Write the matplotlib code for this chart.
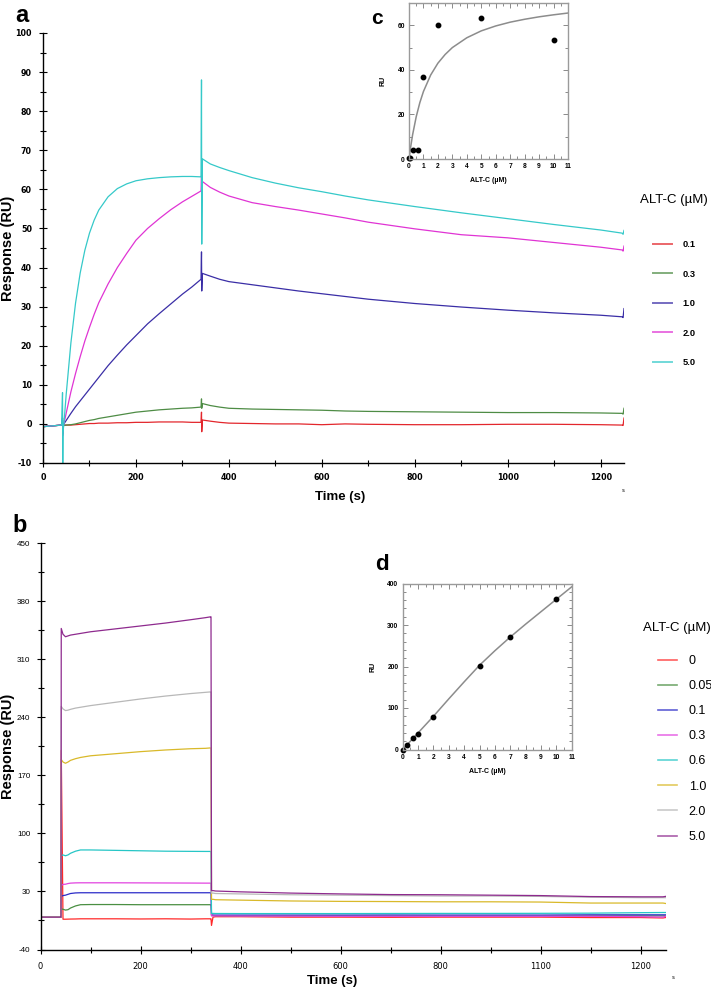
import matplotlib
matplotlib.use('Agg')
import matplotlib.pyplot as plt
from matplotlib.ticker import MultipleLocator, FixedLocator

plt.rcParams['axes.unicode_minus'] = False

# ---------- panel a: sensorgrams (ALT-C 0.1 - 5.0 uM)
t_a = [0, 20, 40, 42, 42.5, 43, 45, 50, 60, 70, 80, 90, 100, 110, 120, 140, 160, 180, 200,
       225, 250, 275, 300, 320, 340, 341, 341.5, 343, 360, 380, 400, 450, 500, 550, 600,
       650, 700, 800, 900, 1000, 1100, 1200, 1246, 1248, 1250]
ru_a_01 = [-0.7, -0.5, -0.3, 1.5, -2.5, -0.5, -0.3, -0.3, -0.3, -0.2,
           -0.1, 0.0, 0.1, 0.1, 0.2, 0.2, 0.3, 0.3, 0.4, 0.4,
           0.5, 0.5, 0.5, 0.4, 0.4, 3.0, -2.0, 1.0, 0.7, 0.4,
           0.2, 0.1, 0.0, 0.0, -0.2, 0.0, -0.1, -0.2, -0.2, -0.1,
           -0.1, -0.2, -0.3, -0.4, 1.5]
ru_a_03 = [-0.7, -0.5, -0.3, 0.5, -1.5, -0.5, -0.4, -0.3, -0.2, 0.0,
           0.3, 0.6, 0.9, 1.1, 1.4, 1.8, 2.2, 2.6, 3.0, 3.3,
           3.6, 3.8, 4.0, 4.1, 4.3, 6.4, 4.0, 5.2, 4.7, 4.3,
           4.0, 3.8, 3.7, 3.6, 3.5, 3.3, 3.2, 3.1, 3.0, 2.9,
           2.9, 2.8, 2.7, 2.5, 4.0]
ru_a_10 = [-0.7, -0.5, -0.3, 1.0, -2.5, -1.0, 0.0, 0.9, 2.7, 4.4,
           5.9, 7.4, 8.9, 10.4, 11.9, 14.9, 17.6, 20.2, 22.6, 25.6,
           28.2, 30.7, 33.2, 35.0, 37.0, 44.0, 34.0, 38.5, 37.8, 37.0,
           36.4, 35.6, 34.8, 34.0, 33.3, 32.6, 31.9, 30.8, 29.9, 29.1,
           28.4, 27.8, 27.4, 27.2, 29.5]
ru_a_20 = [-0.7, -0.5, -0.3, 1.5, -3.0, -1.0, 0.0, 2.8, 8.2, 12.9,
           17.2, 21.2, 24.7, 28.0, 31.0, 35.8, 40.0, 43.6, 47.0, 50.0,
           52.5, 54.8, 56.8, 58.2, 59.6, 63.5, 58.0, 62.0, 60.5, 59.3,
           58.3, 56.6, 55.6, 54.7, 53.7, 52.7, 51.6, 49.9, 48.4, 47.6,
           46.4, 45.2, 44.5, 44.2, 45.5]
ru_a_50 = [-0.7, -0.5, -0.3, 8.0, -10.0, -2.0, 0.0, 7.7, 20.7, 30.9,
           38.6, 44.4, 48.8, 52.1, 54.7, 58.1, 60.2, 61.4, 62.2, 62.7,
           63.0, 63.2, 63.3, 63.3, 63.2, 88.0, 46.0, 67.8, 66.5, 65.6,
           64.8, 63.0, 61.6, 60.4, 59.4, 58.3, 57.3, 55.6, 54.0, 52.5,
           51.0, 49.6, 48.8, 48.5, 49.5]
labels_a = ['0.1', '0.3', '1.0', '2.0', '5.0']
colors_a = ['#e3262c', '#4e8c45', '#3a2ea6', '#e034d4', '#35c9c9']

# ---------- panel b: sensorgrams (ALT-C 0 - 5.0 uM)
t_b = [0, 20, 40, 41, 41.5, 45, 50, 55, 60, 70, 80, 100, 150, 200, 250, 300, 330, 340,
       341, 342, 345, 350, 400, 500, 600, 700, 800, 900, 1000, 1100, 1200, 1245, 1250]
ru_b_0 = [-1, -1, -1, -1, 200, -3.5, -3.5, -3.4, -3.3, -3.2,
          -3, -3, -3, -3.2, -3, -3.3, -3, -3, -3, -11,
          -1, -0.5, -0.5, -1, -1, -1.2, -1, -1, -1, -1.5,
          -1.5, -2, -1.5]
ru_b_005 = [-1, -1, -1, -1, 9, 8.5, 7.5, 8, 10, 12.5,
            14, 14.2, 14.2, 14, 14, 14, 14, 14, 14, 1,
            1, 0.8, 0.5, 0.5, 0.5, 0.3, 0.3, 0.3, 0.3, 0.5,
            0.5, 0.5, 0.5]
ru_b_01 = [-1, -1, -1, -1, 24, 25, 25.5, 26.5, 27.5, 28.2,
           28.4, 28.4, 28.4, 28.4, 28.4, 28.4, 28.4, 28.4, 28.4, 1.5,
           1.5, 1.5, 1.5, 1.5, 1.5, 1.6, 1.5, 1.5, 1.5, 1.8,
           1.8, 1.8, 1.8]
ru_b_03 = [-1, -1, -1, -1, 37, 38.5, 38.7, 39.5, 40, 40.3,
           40.4, 40.4, 40.4, 40.3, 40.2, 40.1, 40, 40, 40, 0.5,
           0.5, 0.5, 0.3, 0.2, 0, 0, 0, 0, 0, 0,
           -0.5, -1, 0]
ru_b_06 = [-1, -1, -1, -1, 73, 74, 73, 74, 76, 78.5,
           80, 80, 79.5, 79, 78.5, 78.3, 78.2, 78.2, 78, 3.5,
           3.5, 3.4, 3.3, 3.3, 3.3, 3.4, 3.5, 3.5, 3.6, 3.8,
           4.4, 4.6, 4.6]
ru_b_10 = [-1, -1, -1, -1, 189, 186, 184.5, 186, 188, 190,
           191.5, 193.5, 196, 198.5, 200.5, 202, 202.5, 203, 203, 20.5,
           20.5, 20, 19.5, 18.5, 18, 17.8, 17.5, 17.5, 17.2, 16,
           16, 16, 15.5]
ru_b_20 = [-1, -1, -1, -1, 253, 250, 248, 248.5, 249.5, 251,
           252, 254, 258, 262, 265.5, 268.5, 270, 270.5, 270.5, 28,
           28, 27.5, 27, 26, 25.5, 25, 24.5, 24.5, 24, 23,
           22.5, 22.5, 22.5]
ru_b_50 = [-1, -1, -1, -1, 347, 340, 337, 338, 339, 340,
           341, 343, 346.5, 350, 353.5, 357.5, 360, 361, 361, 31,
           31, 30.5, 29.5, 28, 27, 26.2, 26, 25.5, 25, 23.8,
           23.5, 23.5, 24]
labels_b = ['0', '0.05', '0.1', '0.3', '0.6', '1.0', '2.0', '5.0']
colors_b = ['#ff2a2a', '#4a8f42', '#2c2cc8', '#e244e0', '#26c6c6', '#d9b92a', '#b8b8b8', '#8e2a8e']
xtick_b = [0, 200, 400, 600, 800, 1000, 1200]
xticklab_b = ['0', '200', '400', '600', '800', '1100', '1200']

# ---------- inset c: steady state fit
conc_c = [0, 0.1, 0.3, 0.6, 1, 2, 5, 10]
ru_c = [0.3, 0.4, 4, 4, 37, 60, 63.3, 53.5]
fit_c_x = [0, 0.1, 0.25, 0.5, 0.75, 1, 1.5, 2, 2.5, 3, 4, 5, 6, 7, 8, 9, 10, 11]
fit_c_y = [0, 4.8, 10.9, 19.0, 25.3, 30.3, 37.7, 43.0, 46.9, 50.0, 54.4, 57.5, 59.7,
           61.4, 62.7, 63.8, 64.7, 65.5]

# ---------- inset d
conc_d = [0, 0.3, 0.7, 1.0, 2.0, 5.0, 7.0, 10.0]
ru_d = [0, 12, 27, 38, 79, 202, 270, 362]
fit_d_x = [0, 1, 2, 3, 4, 5, 6, 7, 8, 9, 10, 11]
fit_d_y = [0, 40, 80, 122, 163, 203, 238, 271, 302, 332, 362, 392]

W, H = 711, 992
fig = plt.figure(figsize=(W / 100, H / 100), dpi=100)


def px(x0, y0, x1, y1):
    return [x0 / W, 1 - y1 / H, (x1 - x0) / W, (y1 - y0) / H]


def sensor_axes(ax):
    for s in ['top', 'right']:
        ax.spines[s].set_visible(False)
    for s in ['left', 'bottom']:
        ax.spines[s].set_linewidth(1.0)
    ax.tick_params(which='major', direction='inout', length=6, width=0.8)
    ax.tick_params(which='minor', direction='inout', length=4, width=0.8)


# ---- a
ax = fig.add_axes(px(43, 33, 624, 463))
for ys, c, l in zip([ru_a_01, ru_a_03, ru_a_10, ru_a_20, ru_a_50], colors_a, labels_a):
    ax.plot(t_a, ys, color=c, lw=0.9, label=l)
ax.set_xlim(0, 1250)
ax.set_ylim(-10, 100)
sensor_axes(ax)
ax.xaxis.set_major_locator(FixedLocator([0, 200, 400, 600, 800, 1000, 1200]))
ax.xaxis.set_minor_locator(MultipleLocator(100))
ax.yaxis.set_major_locator(MultipleLocator(10))
ax.yaxis.set_minor_locator(MultipleLocator(5))
for lab in ax.get_xticklabels() + ax.get_yticklabels():
    lab.set_fontfamily('DejaVu Sans')
    lab.set_fontweight('bold')
    lab.set_fontsize(5.8)
ax.tick_params(axis='y', pad=5)
ax.tick_params(axis='x', pad=4)
ax.set_ylabel('Response (RU)', fontsize=10.5, fontweight='bold', family='Liberation Sans')
ax.yaxis.set_label_coords(-0.048, 0.5)
ax.set_xlabel('Time (s)', fontsize=9.5, fontweight='bold', family='Liberation Sans')
ax.xaxis.set_label_coords(0.511, -0.064)
ax.text(0.998, -0.063, 's', transform=ax.transAxes, fontsize=4, ha='center', va='center')
leg = ax.legend(loc='upper left', bbox_to_anchor=(653 / W, 1 - 240 / H),
                bbox_transform=fig.transFigure, frameon=False, borderpad=0,
                borderaxespad=0, handlelength=2.0, handletextpad=1.2, labelspacing=2.21,
                prop={'family': 'Liberation Sans', 'weight': 'bold', 'size': 6.7})
for h in leg.get_lines():
    h.set_linewidth(1.4)
    h.set_alpha(0.7)
fig.text(640 / W, 1 - 200 / H, 'ALT-C (µM)', fontsize=9.5, family='Liberation Sans',
         ha='left', va='center')
fig.text(15 / W, 1 - 15 / H, 'a', fontsize=17, fontweight='bold', family='Liberation Sans',
         ha='left', va='center')

# ---- b
bx = fig.add_axes(px(40.5, 543, 665.5, 949.5))
for ys, c, l in zip([ru_b_0, ru_b_005, ru_b_01, ru_b_03, ru_b_06, ru_b_10, ru_b_20, ru_b_50],
                    colors_b, labels_b):
    bx.plot(t_b, ys, color=c, lw=0.9, label=l)
bx.set_xlim(0, 1250)
bx.set_ylim(-40, 450)
sensor_axes(bx)
bx.set_xticks(xtick_b)
bx.set_xticklabels(xticklab_b)
bx.xaxis.set_minor_locator(MultipleLocator(100))
bx.set_yticks([-40, 30, 100, 170, 240, 310, 380, 450])
bx.yaxis.set_minor_locator(FixedLocator([-5, 65, 135, 205, 275, 345, 415]))
for lab in bx.get_xticklabels():
    lab.set_fontfamily('DejaVu Sans')
    lab.set_fontsize(6)
for lab in bx.get_yticklabels():
    lab.set_fontfamily('Liberation Sans')
    lab.set_fontsize(5.8)
bx.tick_params(axis='y', pad=4.4)
bx.tick_params(axis='x', pad=6)
bx.set_ylabel('Response (RU)', fontsize=10.5, fontweight='bold', family='Liberation Sans')
bx.yaxis.set_label_coords(-0.041, 0.5)
bx.set_xlabel('Time (s)', fontsize=9.5, fontweight='bold', family='Liberation Sans')
bx.xaxis.set_label_coords(0.466, -0.062)
bx.text(1.012, -0.068, 's', transform=bx.transAxes, fontsize=4, ha='center', va='center')
leg = bx.legend(loc='upper left', bbox_to_anchor=(658 / W, 1 - 655 / H),
                bbox_transform=fig.transFigure, frameon=False, borderpad=0,
                borderaxespad=0, handlelength=1.5, handletextpad=0.95, labelspacing=1.05,
                prop={'family': 'Liberation Sans', 'size': 9})
for h in leg.get_lines():
    h.set_linewidth(1.2)
    h.set_alpha(0.75)
fig.text(643 / W, 1 - 628 / H, 'ALT-C (µM)', fontsize=9.5, family='Liberation Sans',
         ha='left', va='center')
fig.text(12 / W, 1 - 525 / H, 'b', fontsize=17, fontweight='bold', family='Liberation Sans',
         ha='left', va='center')


def inset(ax, xmaj, ymaj, ymin):
    ax.set_facecolor('white')
    for s in ax.spines.values():
        s.set_color('#9a9a9a')
        s.set_linewidth(1.0)
    ax.xaxis.set_major_locator(MultipleLocator(xmaj))
    ax.xaxis.set_minor_locator(MultipleLocator(0.5))
    ax.yaxis.set_major_locator(MultipleLocator(ymaj))
    ax.yaxis.set_minor_locator(MultipleLocator(ymin))
    ax.tick_params(which='both', direction='in', top=True, right=True, color='#8a8a8a',
                   width=0.7, labelsize=4.8, pad=3)
    ax.tick_params(which='major', length=3.5)
    ax.tick_params(which='minor', length=2.2)
    for lab in ax.get_xticklabels() + ax.get_yticklabels():
        lab.set_fontweight('bold')
        lab.set_fontfamily('Liberation Sans')


# ---- c
cx = fig.add_axes(px(409, 3, 568, 159))
cx.plot(fit_c_x, fit_c_y, color='#8c8c8c', lw=1.1)
cx.plot(conc_c, ru_c, 'o', color='black', ms=3.2, clip_on=False)
cx.set_xlim(0, 11)
cx.set_ylim(0, 70)
inset(cx, 1, 20, 10)
cx.set_xlabel('ALT-C (µM)', fontsize=5, fontweight='bold', family='Liberation Sans', labelpad=5)
cx.set_ylabel('RU', fontsize=5, fontweight='bold', family='Liberation Sans', labelpad=8)
fig.text(371 / W, 1 - 18 / H, 'c', fontsize=15, fontweight='bold', family='Liberation Sans',
         ha='left', va='center')

# ---- d
dx = fig.add_axes(px(402.7, 583.5, 571.7, 749.5))
dx.plot(fit_d_x, fit_d_y, color='#8c8c8c', lw=1.1)
dx.plot(conc_d, ru_d, 'o', color='black', ms=3.2, clip_on=False)
dx.set_xlim(0, 11)
dx.set_ylim(0, 400)
inset(dx, 1, 100, 20)
dx.set_xlabel('ALT-C (µM)', fontsize=5, fontweight='bold', family='Liberation Sans', labelpad=5)
dx.set_ylabel('RU', fontsize=5, fontweight='bold', family='Liberation Sans', labelpad=8)
fig.text(375 / W, 1 - 565 / H, 'd', fontsize=16, fontweight='bold', family='Liberation Sans',
         ha='left', va='center')

fig.savefig('out.png', dpi=100)
